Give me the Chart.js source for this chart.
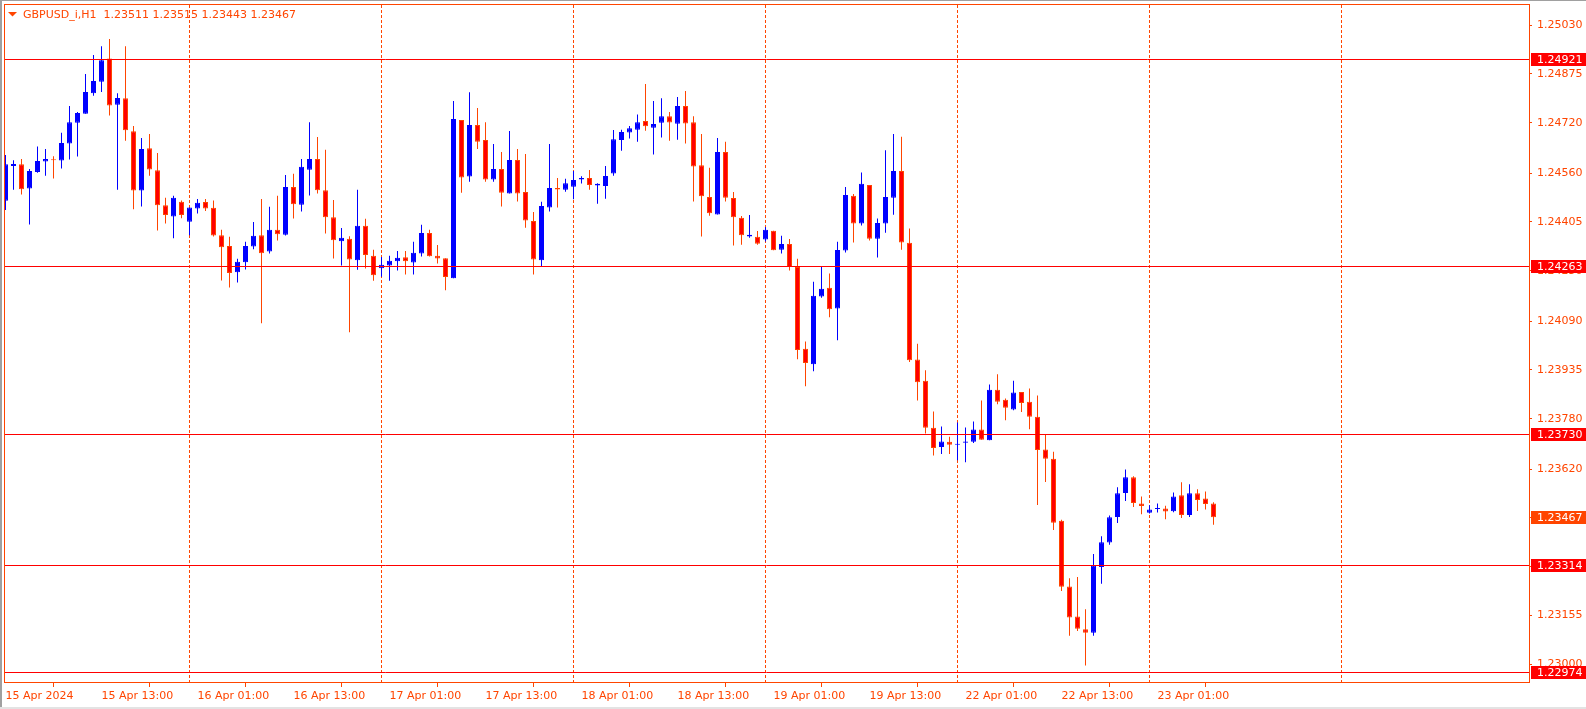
<!DOCTYPE html>
<html>
<head>
<meta charset="utf-8">
<script src="https://cdn.jsdelivr.net/npm/chart.js@4.4.1/dist/chart.umd.min.js"></script>
<style>
  html, body { margin: 0; padding: 0; background: #fff; overflow: hidden; }
</style>
</head>
<body>
<canvas id="chart" width="1586" height="709"></canvas>
<script>
const symbol = "GBPUSD_i,H1";
const timeLabels = ["15 Apr 2024", "15 Apr 13:00", "16 Apr 01:00", "16 Apr 13:00", "17 Apr 01:00", "17 Apr 13:00",
  "18 Apr 01:00", "18 Apr 13:00", "19 Apr 01:00", "19 Apr 13:00", "22 Apr 01:00", "22 Apr 13:00", "23 Apr 01:00"];
const yTicks = [1.25030, 1.24875, 1.24720, 1.24560, 1.24405, 1.24250, 1.24090, 1.23935, 1.23780, 1.23620,
  1.23465, 1.23310, 1.23155, 1.23000];
const levels = [1.24921, 1.24263, 1.23730, 1.23314, 1.22974];
const lastPrice = 1.23467;
const dayStarts = [23, 47, 71, 95, 119, 143, 167];

const opens = [
  1.24472, 1.24583, 1.24588, 1.24511, 1.24564, 1.24597, 1.24601, 1.24600, 1.24654, 1.24720,
  1.24749, 1.24814, 1.24850, 1.24924, 1.24777, 1.24798, 1.24693, 1.24505, 1.24639, 1.24569,
  1.24458, 1.24422, 1.24469, 1.24406, 1.24448, 1.24468, 1.24450, 1.24363, 1.24329, 1.24245,
  1.24277, 1.24327, 1.24363, 1.24311, 1.24380, 1.24364, 1.24516, 1.24460, 1.24571, 1.24605,
  1.24506, 1.24420, 1.24344, 1.24352, 1.24283, 1.24393, 1.24298, 1.24258, 1.24267, 1.24280,
  1.24293, 1.24276, 1.24305, 1.24370, 1.24298, 1.24290, 1.24226, 1.24729, 1.24549, 1.24713,
  1.24665, 1.24540, 1.24573, 1.24495, 1.24602, 1.24500, 1.24408, 1.24283, 1.24451, 1.24513,
  1.24507, 1.24517, 1.24540, 1.24545, 1.24521, 1.24519, 1.24559, 1.24665, 1.24689, 1.24698,
  1.24726, 1.24704, 1.24720, 1.24741, 1.24717, 1.24773, 1.24722, 1.24585, 1.24484, 1.24429,
  1.24627, 1.24481, 1.24418, 1.24359, 1.24358, 1.24349, 1.24377, 1.24317, 1.24335, 1.24262,
  1.24002, 1.23953, 1.24168, 1.24196, 1.24130, 1.24314, 1.24488, 1.24400, 1.24522, 1.24352,
  1.24400, 1.24482, 1.24567, 1.24339, 1.23968, 1.23901, 1.23751, 1.23690, 1.23707, 1.23697,
  1.23704, 1.23707, 1.23746, 1.23712, 1.23872, 1.23840, 1.23809, 1.23865, 1.23834, 1.23786,
  1.23682, 1.23653, 1.23456, 1.23247, 1.23152, 1.23111, 1.23100, 1.23309, 1.23387, 1.23468,
  1.23544, 1.23594, 1.23511, 1.23481, 1.23493, 1.23495, 1.23486, 1.23537, 1.23474, 1.23543,
  1.23527, 1.23511
];
const highs = [
  1.24618, 1.24601, 1.24605, 1.24573, 1.24645, 1.24637, 1.24614, 1.24688, 1.24773, 1.24754,
  1.24875, 1.24935, 1.24963, 1.24986, 1.24814, 1.24963, 1.24710, 1.24672, 1.24684, 1.24624,
  1.24482, 1.24488, 1.24473, 1.24451, 1.24478, 1.24478, 1.24473, 1.24380, 1.24358, 1.24288,
  1.24342, 1.24405, 1.24478, 1.24453, 1.24488, 1.24554, 1.24558, 1.24605, 1.24722, 1.24675,
  1.24634, 1.24475, 1.24386, 1.24360, 1.24507, 1.24415, 1.24317, 1.24294, 1.24298, 1.24313,
  1.24313, 1.24342, 1.24396, 1.24380, 1.24332, 1.24290, 1.24789, 1.24729, 1.24817, 1.24767,
  1.24722, 1.24653, 1.24627, 1.24694, 1.24637, 1.24621, 1.24437, 1.24469, 1.24653, 1.24545,
  1.24542, 1.24567, 1.24550, 1.24570, 1.24528, 1.24583, 1.24697, 1.24698, 1.24710, 1.24746,
  1.24843, 1.24789, 1.24798, 1.24754, 1.24802, 1.24821, 1.24741, 1.24684, 1.24577, 1.24672,
  1.24660, 1.24500, 1.24424, 1.24427, 1.24376, 1.24389, 1.24377, 1.24361, 1.24351, 1.24288,
  1.24025, 1.24215, 1.24264, 1.24241, 1.24342, 1.24516, 1.24494, 1.24562, 1.24522, 1.24416,
  1.24633, 1.24684, 1.24676, 1.24384, 1.24018, 1.23934, 1.23803, 1.23755, 1.23723, 1.23768,
  1.23752, 1.23771, 1.23838, 1.23889, 1.23921, 1.23844, 1.23901, 1.23865, 1.23876, 1.23854,
  1.23728, 1.23675, 1.23459, 1.23273, 1.23277, 1.23175, 1.23350, 1.23407, 1.23473, 1.23562,
  1.23619, 1.23597, 1.23533, 1.23505, 1.23511, 1.23504, 1.23546, 1.23578, 1.23572, 1.23556,
  1.23549, 1.23515
];
const lows = [
  1.24443, 1.24507, 1.24492, 1.24397, 1.24561, 1.24552, 1.24543, 1.24575, 1.24603, 1.24613,
  1.24749, 1.24806, 1.24818, 1.24743, 1.24507, 1.24663, 1.24445, 1.24454, 1.24552, 1.24378,
  1.24400, 1.24353, 1.24417, 1.24363, 1.24432, 1.24440, 1.24359, 1.24219, 1.24197, 1.24213,
  1.24254, 1.24318, 1.24083, 1.24305, 1.24346, 1.24362, 1.24416, 1.24438, 1.24489, 1.24495,
  1.24368, 1.24289, 1.24267, 1.24055, 1.24253, 1.24257, 1.24218, 1.24231, 1.24218, 1.24251,
  1.24238, 1.24238, 1.24295, 1.24295, 1.24273, 1.24188, 1.24226, 1.24498, 1.24533, 1.24637,
  1.24533, 1.24533, 1.24454, 1.24495, 1.24470, 1.24387, 1.24238, 1.24264, 1.24438, 1.24451,
  1.24501, 1.24477, 1.24527, 1.24507, 1.24463, 1.24479, 1.24552, 1.24631, 1.24670, 1.24660,
  1.24695, 1.24619, 1.24673, 1.24663, 1.24666, 1.24654, 1.24470, 1.24359, 1.24425, 1.24429,
  1.24470, 1.24330, 1.24333, 1.24355, 1.24333, 1.24343, 1.24315, 1.24305, 1.24251, 1.23969,
  1.23883, 1.23931, 1.24164, 1.24102, 1.24029, 1.24308, 1.24340, 1.24394, 1.24346, 1.24292,
  1.24371, 1.24428, 1.24317, 1.23960, 1.23838, 1.23733, 1.23663, 1.23668, 1.23668, 1.23648,
  1.23642, 1.23703, 1.23713, 1.23712, 1.23826, 1.23775, 1.23807, 1.23801, 1.23747, 1.23506,
  1.23579, 1.23427, 1.23233, 1.23091, 1.23106, 1.22996, 1.23091, 1.23256, 1.23380, 1.23449,
  1.23519, 1.23500, 1.23477, 1.23479, 1.23482, 1.23461, 1.23483, 1.23465, 1.23468, 1.23487,
  1.23492, 1.23443
];
const closes = [
  1.24588, 1.24589, 1.24509, 1.24567, 1.24599, 1.24605, 1.24601, 1.24656, 1.24722, 1.24751,
  1.24818, 1.24853, 1.24919, 1.24775, 1.24799, 1.24696, 1.24505, 1.24637, 1.24572, 1.24458,
  1.24427, 1.24482, 1.24427, 1.24451, 1.24466, 1.24448, 1.24362, 1.24325, 1.24243, 1.24279,
  1.24329, 1.24361, 1.24306, 1.24380, 1.24366, 1.24516, 1.24461, 1.24580, 1.24605, 1.24506,
  1.24420, 1.24347, 1.24355, 1.24286, 1.24393, 1.24300, 1.24236, 1.24269, 1.24282, 1.24291,
  1.24280, 1.24307, 1.24370, 1.24296, 1.24289, 1.24230, 1.24732, 1.24546, 1.24713, 1.24660,
  1.24540, 1.24573, 1.24498, 1.24602, 1.24495, 1.24410, 1.24286, 1.24456, 1.24513, 1.24508,
  1.24528, 1.24538, 1.24545, 1.24522, 1.24526, 1.24551, 1.24668, 1.24691, 1.24703, 1.24722,
  1.24709, 1.24716, 1.24741, 1.24721, 1.24773, 1.24718, 1.24581, 1.24487, 1.24433, 1.24627,
  1.24482, 1.24420, 1.24363, 1.24364, 1.24336, 1.24380, 1.24315, 1.24335, 1.24262, 1.23998,
  1.23957, 1.24171, 1.24193, 1.24128, 1.24316, 1.24491, 1.24400, 1.24526, 1.24352, 1.24402,
  1.24484, 1.24567, 1.24340, 1.23966, 1.23896, 1.23751, 1.23687, 1.23708, 1.23697, 1.23700,
  1.23708, 1.23746, 1.23713, 1.23872, 1.23834, 1.23815, 1.23863, 1.23830, 1.23786, 1.23681,
  1.23653, 1.23450, 1.23246, 1.23149, 1.23113, 1.23100, 1.23314, 1.23388, 1.23467, 1.23543,
  1.23594, 1.23512, 1.23503, 1.23492, 1.23495, 1.23485, 1.23533, 1.23474, 1.23543, 1.23522,
  1.23509, 1.23467
];

const orange = "#FF4500";
const bullColor = "#0000FF";
const bearFill = "#FF0000";
const isBull = opens.map((o, i) => closes[i] > o);

const decor = {
  id: "decor",
  beforeDatasetsDraw(chart) {
    const { ctx, chartArea: a, scales: { x } } = chart;
    ctx.save();
    ctx.strokeStyle = orange;
    ctx.lineWidth = 1;
    ctx.setLineDash([3, 2]);
    dayStarts.forEach((d) => {
      const px = Math.floor(x.getPixelForValue(d)) + 0.5;
      ctx.beginPath();
      ctx.moveTo(px, a.top + 1);
      ctx.lineTo(px, a.bottom - 1);
      ctx.stroke();
    });
    ctx.restore();
  },
  afterDatasetsDraw(chart) {
    const { ctx, chartArea: a, scales: { y } } = chart;
    ctx.save();
    ctx.strokeStyle = "#FF0000";
    ctx.lineWidth = 1;
    levels.forEach((v) => {
      const py = Math.floor(y.getPixelForValue(v)) + 0.5;
      ctx.beginPath();
      ctx.moveTo(a.left, py);
      ctx.lineTo(a.right, py);
      ctx.stroke();
    });
    ctx.restore();
  },
  afterDraw(chart) {
    const { ctx, chartArea: a, scales: { y } } = chart;
    ctx.save();
    // window edges
    ctx.fillStyle = "#A0A0A0";
    ctx.fillRect(0, 0, 2, 709);
    ctx.fillRect(0, 0, 1586, 1);
    ctx.fillStyle = "#E3E3E3";
    ctx.fillRect(0, 707, 1586, 2);
    // frame
    ctx.strokeStyle = orange;
    ctx.lineWidth = 1;
    ctx.strokeRect(a.left + 0.5, a.top + 0.5, a.right - a.left, a.bottom - a.top - 1);
    // price boxes
    ctx.font = "11px 'DejaVu Sans'";
    ctx.textBaseline = "middle";
    ctx.textAlign = "left";
    const box = (v, color) => {
      const py = Math.floor(y.getPixelForValue(v));
      ctx.fillStyle = color;
      ctx.fillRect(a.right + 2, py - 6, 1586 - a.right - 2, 13);
      ctx.fillStyle = "#FFFFFF";
      ctx.fillText(v.toFixed(5), a.right + 8, py + 1);
    };
    levels.forEach((v) => box(v, "#FF0000"));
    box(lastPrice, orange);
    // title
    const n = opens.length - 1;
    ctx.fillStyle = orange;
    ctx.beginPath();
    ctx.moveTo(8, 12);
    ctx.lineTo(17, 12);
    ctx.lineTo(12.5, 16.5);
    ctx.closePath();
    ctx.fill();
    const title = symbol + "  " + [opens[n], highs[n], lows[n], closes[n]].map((v) => v.toFixed(5)).join(" ");
    ctx.fillText(title, 23, 15);
    ctx.restore();
  },
};

const ctx = document.getElementById("chart").getContext("2d");
new Chart(ctx, {
  type: "bar",
  data: {
    datasets: [
      {
        label: "wicks",
        data: highs.map((h, i) => ({ x: i, y: [lows[i], h] })),
        backgroundColor: isBull.map((b) => (b ? bullColor : orange)),
        barThickness: 1,
        grouped: false,
        inflateAmount: 0,
        borderWidth: 0,
        order: 2,
        clip: 0,
      },
      {
        label: "bodies",
        data: opens.map((o, i) => ({ x: i, y: [o, closes[i]] })),
        backgroundColor: isBull.map((b) => (b ? bullColor : bearFill)),
        borderColor: isBull.map((b) => (b ? bullColor : orange)),
        borderWidth: 1,
        borderSkipped: false,
        barThickness: 5,
        minBarLength: 1,
        grouped: false,
        inflateAmount: 0,
        order: 1,
        clip: 0,
      },
    ],
  },
  options: {
    responsive: false,
    devicePixelRatio: 1,
    animation: false,
    layout: { padding: { left: 4, top: 4, right: 0, bottom: 0 } },
    plugins: { legend: { display: false }, tooltip: { enabled: false } },
    scales: {
      x: {
        type: "linear",
        position: "bottom",
        min: -0.1875,
        max: 190.4375,
        offset: false,
        afterBuildTicks: (s) => {
          s.ticks = timeLabels.map((_, k) => ({ value: k * 12 }));
        },
        afterFit: (s) => {
          s.height = 26;
          s.paddingLeft = 0;
          s.paddingRight = 0;
        },
        ticks: {
          callback: (v, idx) => timeLabels[idx],
          align: "start",
          maxRotation: 0,
          autoSkip: false,
          padding: 3,
          color: orange,
          font: { family: "DejaVu Sans", size: 11 },
        },
        grid: { drawOnChartArea: false, drawTicks: true, tickLength: 4, color: orange },
        border: { display: false },
      },
      y: {
        type: "linear",
        position: "right",
        min: 1.2294065,
        max: 1.2509728,
        bounds: "data",
        afterBuildTicks: (s) => {
          s.ticks = yTicks.map((v) => ({ value: v }));
        },
        afterFit: (s) => {
          s.width = 57;
          s.paddingTop = 0;
          s.paddingBottom = 0;
        },
        ticks: {
          callback: (v) => v.toFixed(5),
          autoSkip: false,
          padding: 5,
          color: orange,
          font: { family: "DejaVu Sans", size: 11 },
        },
        grid: { drawOnChartArea: false, drawTicks: true, tickLength: 3, color: orange },
        border: { display: false },
      },
    },
  },
  plugins: [decor],
});
</script>
</body>
</html>
